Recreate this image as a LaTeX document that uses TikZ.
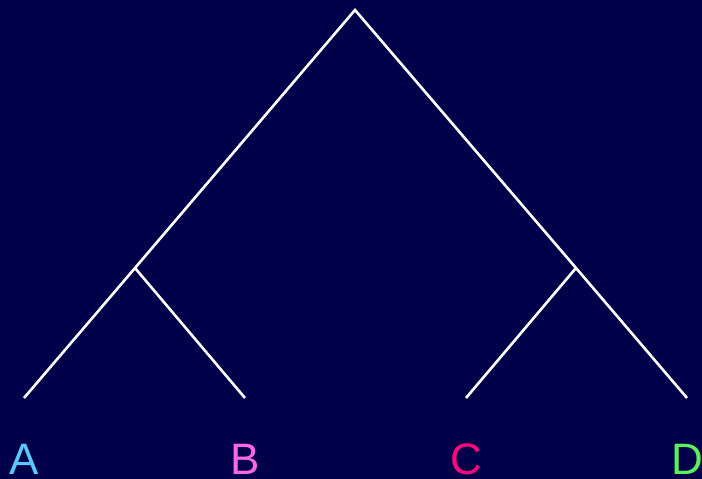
\documentclass[tikz,border=0pt]{standalone}
\usepackage{fontspec}
\setmainfont{Liberation Sans}
\usetikzlibrary{positioning}
\definecolor{night}{HTML}{00004A}
\definecolor{sky}{HTML}{5CC8FA}
\definecolor{orchid}{HTML}{FF66E8}
\definecolor{rose}{HTML}{FF0A7C}
\definecolor{lime}{HTML}{5CF060}
\tikzset{
  br/.style   ={draw=white, line width=2.6pt},
  pt/.style   ={inner sep=0pt, minimum size=0pt},
  leaf/.style ={font=\fontsize{44}{44}\selectfont, inner sep=0pt, anchor=base},
}

\begin{document}
\begin{tikzpicture}[x=1pt,y=-1pt]
    \fill[night] (0,0) rectangle (702,479);
    \useasboundingbox (0,0) rectangle (702,479);
    \node[pt] (root) at (355,10) {};
    \node[pt] (ab) at (135,268) {};
    \node[pt] (cd) at (576,268) {};
    \node[pt] (a) at (24,398) {};
    \node[pt] (b) at (245,398) {};
    \node[pt] (c) at (466,398) {};
    \node[pt] (d) at (687,398) {};
    \draw[br] (a.center) -- (ab.center) -- (root.center) -- (cd.center) -- (d.center);
    \draw[br] (ab.center) -- (b.center);
    \draw[br] (cd.center) -- (c.center);
    \node[leaf,text=sky]    (la) at (24,474)  {A};
    \node[leaf,text=orchid] (lb) at (245,474) {B};
    \node[leaf,text=rose]   (lc) at (466,474) {C};
    \node[leaf,text=lime]   (ld) at (687,474) {D};
  \end{tikzpicture}
\end{document}
